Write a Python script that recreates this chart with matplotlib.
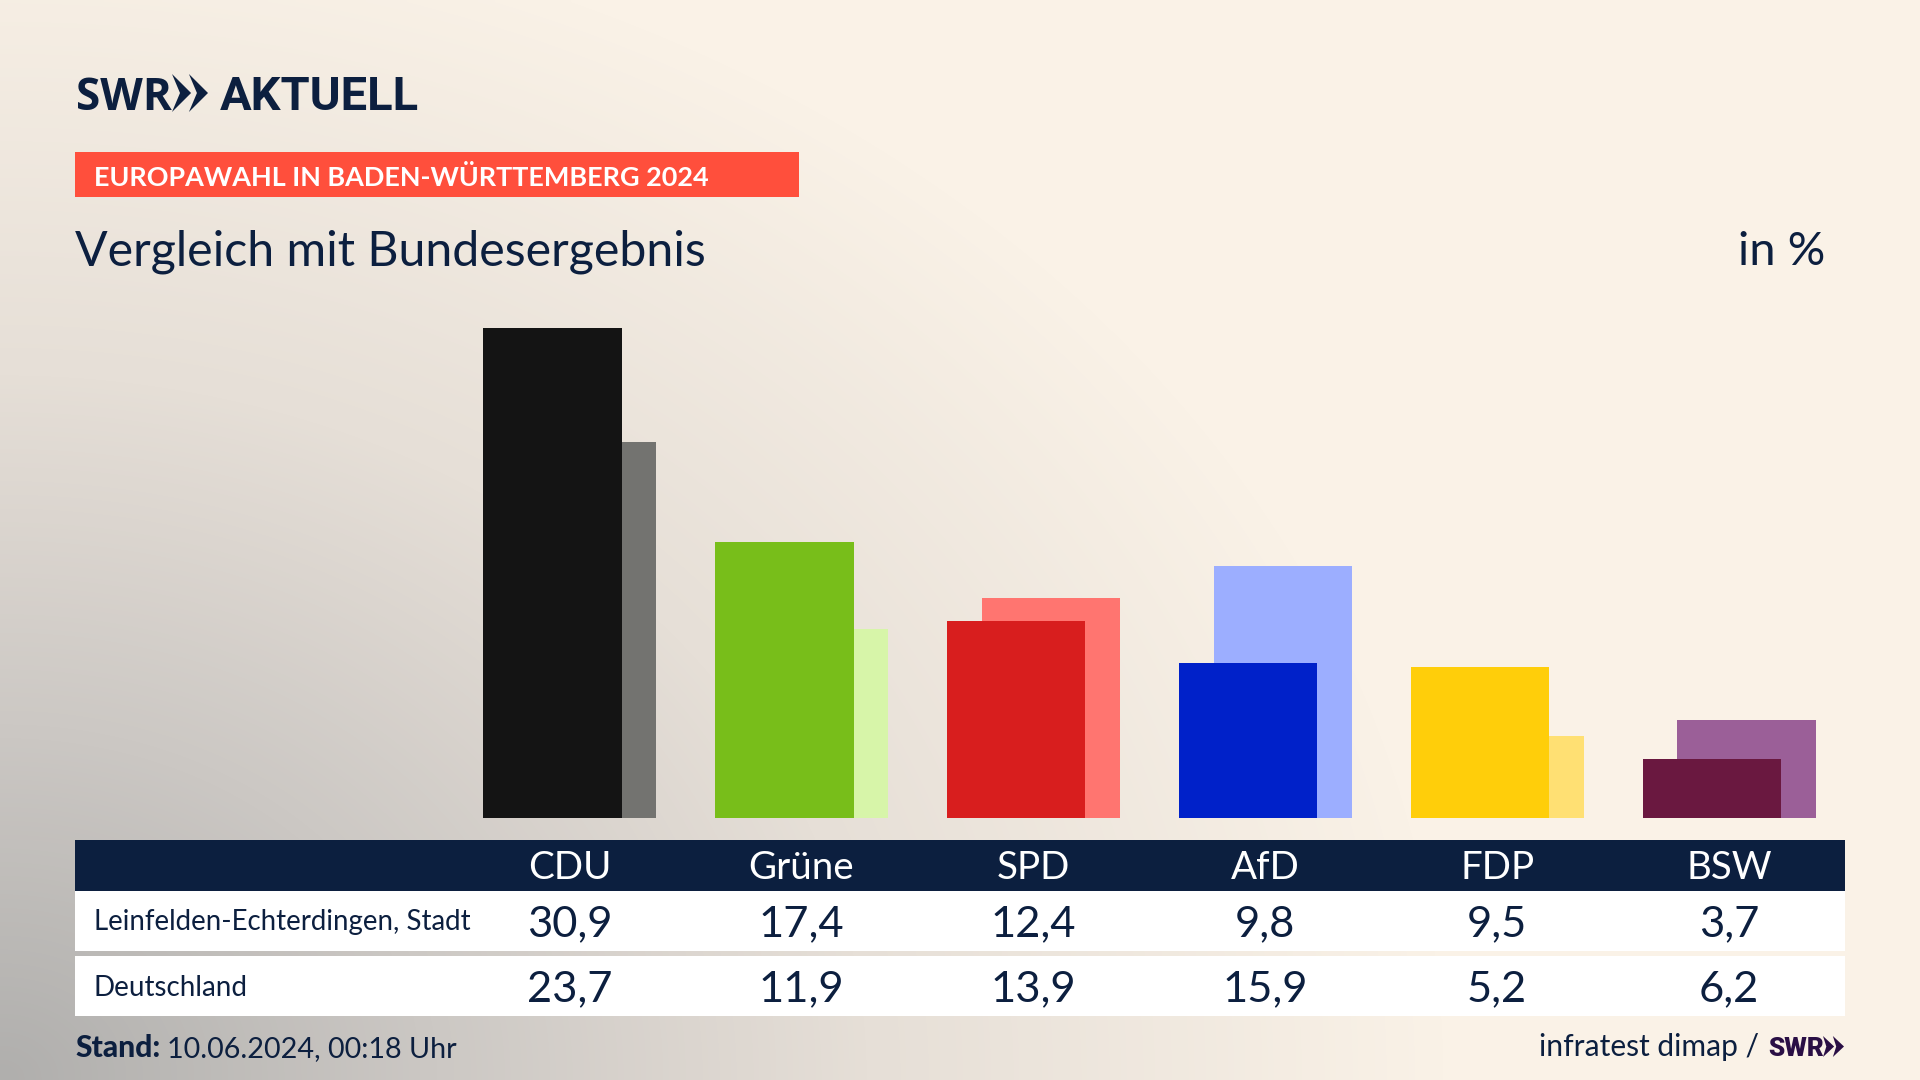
import matplotlib
matplotlib.use("Agg")
from matplotlib import pyplot as plt
from matplotlib.colors import LinearSegmentedColormap
from matplotlib.patches import Polygon, Rectangle
import numpy as np

parties = ["CDU", "Grüne", "SPD", "AfD", "FDP", "BSW"]
local_values = [30.9, 17.4, 12.4, 9.8, 9.5, 3.7]
national_values = [23.7, 11.9, 13.9, 15.9, 5.2, 6.2]
local_colors = ["#141414", "#78BE1A", "#D81E1E", "#0021C9", "#FFCE0A", "#6A1840"]
national_colors = ["#737370", "#D7F5A9", "#FF7570", "#9CAEFF", "#FFE073", "#9B5F98"]
row_labels = ["Leinfelden-Echterdingen, Stadt", "Deutschland"]

NAVY = "#0C1F3F"
FONT = "Lato"
LOGO_FONT = "Roboto"

fig = plt.figure(figsize=(19.2, 10.8), dpi=100)

# pixel axes for background, table and texts
bg = fig.add_axes([0, 0, 1, 1], zorder=0)
bg.set_xlim(0, 1920)
bg.set_ylim(1080, 0)
bg.axis("off")

yy, xx = np.mgrid[0:1080:270j, 0:1920:480j]
dist = np.sqrt((xx / 1450) ** 2 + ((1080 - yy) / 1180) ** 2)
cmap = LinearSegmentedColormap.from_list(
    "bg", [(0, "#B0AFAD"), (0.3, "#CCC8C4"), (0.6, "#E6DFD7"), (1, "#FAF2E7")])
bg.imshow(np.clip(dist, 0, 1), cmap=cmap, vmin=0, vmax=1, extent=(0, 1920, 1080, 0),
          aspect="auto", interpolation="bilinear")


def px(size):
    return size * 0.72


def chevrons(x, top, bottom, width, color, notch=0.42):
    mid = (top + bottom) / 2
    w = width * 0.53
    for off in (0, width - w):
        bg.add_patch(Polygon([(x + off, top), (x + off + w, mid), (x + off, bottom),
                              (x + off + w * notch, mid)], color=color, lw=0))


# logo
bg.text(76, 110.5, "SWR", family="Open Sans", weight="bold", fontsize=px(44), color=NAVY, va="baseline")
chevrons(172, 74, 112, 36, NAVY)
bg.text(220, 110.5, "AKTUELL", family=LOGO_FONT, weight="bold", fontsize=px(47), color=NAVY, va="baseline")

# header
bg.add_patch(Rectangle((75, 152), 724, 45, color="#FF4F3C", lw=0))
bg.text(94, 175, "EUROPAWAHL IN BADEN-WÜRTTEMBERG 2024", family=FONT, weight="bold",
        fontsize=px(27), color="white", va="center_baseline")
bg.text(75, 265, "Vergleich mit Bundesergebnis", family=FONT, fontsize=px(48.2), color=NAVY)
bg.text(1825, 265, "in %", family=FONT, fontsize=px(47), color=NAVY, ha="right")

# bars
ax = fig.add_axes([0, 0, 1, 1], zorder=1)
ax.patch.set_alpha(0)
ax.axis("off")
ax.set_xlim(-569 / 231.9, (1920 - 569) / 231.9)
ax.set_ylim(-262 / 15.86, 818 / 15.86)
idx = np.arange(len(parties))
ax.bar(idx + 0.078, national_values, width=0.597, color=national_colors)
ax.bar(idx - 0.0715, local_values, width=0.597, color=local_colors)

# table
bg.add_patch(Rectangle((75, 840), 1770, 51, color=NAVY, lw=0))
bg.add_patch(Rectangle((75, 891), 1770, 60, color="white", lw=0))
bg.add_patch(Rectangle((75, 956), 1770, 60, color="white", lw=0))
col_x = 569.5 + idx * 231.9
for x, name, v1, v2 in zip(col_x, parties, local_values, national_values):
    bg.text(x, 879, name, family=FONT, fontsize=px(38.5), color="white", ha="center")
    bg.text(x, 936, f"{v1:.1f}".replace(".", ","), family=FONT, fontsize=px(43.5), color=NAVY, ha="center")
    bg.text(x, 1001, f"{v2:.1f}".replace(".", ","), family=FONT, fontsize=px(43.5), color=NAVY, ha="center")
bg.text(94, 930, row_labels[0], family=FONT, fontsize=px(27.6), color=NAVY)
bg.text(94, 996, row_labels[1], family=FONT, fontsize=px(27.8), color=NAVY)

# footer
bg.text(75, 1057, "Stand:", family=FONT, weight="black", fontsize=px(30), color=NAVY)
bg.text(167, 1057, "10.06.2024, 00:18 Uhr", family=FONT, fontsize=px(28.8), color=NAVY)
bg.text(1539, 1056, "infratest dimap /", family=FONT, fontsize=px(30), color=NAVY)
bg.text(1768, 1056, "SWR", family=LOGO_FONT, weight="black", fontsize=px(26), color="#2A0F45")
chevrons(1823, 1036, 1057, 21, "#2A0F45", notch=0.3)

fig.savefig("out.png", dpi=100)
